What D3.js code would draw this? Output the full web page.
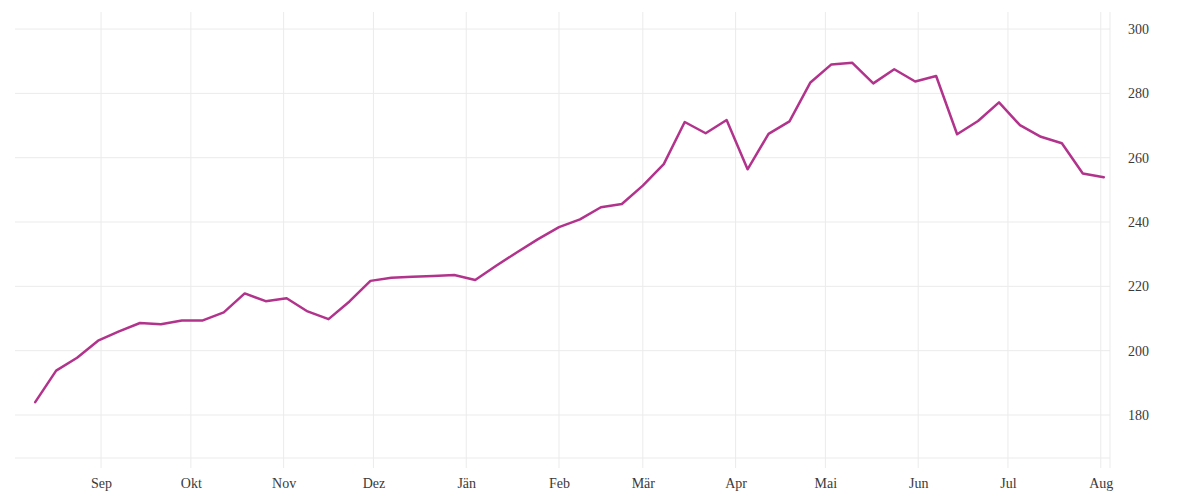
<!DOCTYPE html>
<html>
<head>
<meta charset="utf-8">
<script src="https://cdn.jsdelivr.net/npm/d3@7"></script>
<style>
  html, body { margin: 0; padding: 0; background: #fff; }
  svg { display: block; }
  text { font-family: "Liberation Serif", serif; font-size: 14px; fill: #3a3a3a; }
</style>
</head>
<body>
<svg id="chart" width="1200" height="500"></svg>
<script>
// ---- data ----
const startDate = "2022-08-10"; // weekly observations
const values = [
  184.0, 193.8, 197.8, 203.1, 206.0, 208.6, 208.2, 209.4, 209.4, 211.9,
  217.8, 215.4, 216.3, 212.2, 209.8, 215.3, 221.7, 222.7, 223.0, 223.2,
  223.5, 222.0, 226.4, 230.6, 234.7, 238.4, 240.8, 244.6, 245.6, 251.3,
  258.0, 271.1, 267.6, 271.7, 256.4, 267.4, 271.3, 283.4, 289.0, 289.5,
  283.1, 287.5, 283.7, 285.4, 267.3, 271.4, 277.2, 270.1, 266.5, 264.5,
  255.1, 253.9
];
const monthTicks = ["2022-09-01","2022-10-01","2022-11-01","2022-12-01","2023-01-01","2023-02-01",
                    "2023-03-01","2023-04-01","2023-05-01","2023-06-01","2023-07-01","2023-08-01"];
const monthLabels = ["Sep","Okt","Nov","Dez","Jän","Feb","Mär","Apr","Mai","Jun","Jul","Aug"];
const yTicks = [180, 200, 220, 240, 260, 280, 300];

// ---- build ----
const parse = d3.utcParse("%Y-%m-%d");
const t0 = parse(startDate);
const data = values.map((v, i) => ({ date: d3.utcDay.offset(t0, 7 * i), value: v }));
const ticks = monthTicks.map(parse);

const pL = 15, pR = 1110, pT = 12, pB = 458;

const x = d3.scaleUtc()
  .domain([d3.utcHour.offset(t0, -162), d3.utcHour.offset(data[data.length - 1].date, 50)])
  .range([pL, pR]);
const y = d3.scaleLinear().domain([166.63, 305.3]).range([pB, pT]);

const svg = d3.select("#chart");
const grid = "#ebebeb";

// horizontal grid
svg.append("g").selectAll("line").data(yTicks).join("line")
  .attr("x1", pL).attr("x2", pR)
  .attr("y1", d => y(d)).attr("y2", d => y(d))
  .attr("stroke", grid).attr("stroke-width", 1);

// bottom axis line
svg.append("line").attr("x1", pL).attr("x2", pR)
  .attr("y1", pB).attr("y2", pB).attr("stroke", grid);

// vertical grid (month ticks)
svg.append("g").selectAll("line").data(ticks).join("line")
  .attr("x1", d => x(d)).attr("x2", d => x(d))
  .attr("y1", pT).attr("y2", pB + 10)
  .attr("stroke", grid).attr("stroke-width", 1);

// right axis line
svg.append("line").attr("x1", pR).attr("x2", pR)
  .attr("y1", pT).attr("y2", pB + 10).attr("stroke", grid);

// x labels
const xAxis = d3.axisBottom(x).tickValues(ticks).tickSize(0).tickPadding(0)
  .tickFormat((d, i) => monthLabels[i]);
const gx = svg.append("g").attr("transform", `translate(0,${pB + 20})`).call(xAxis);
gx.select(".domain").remove();
gx.selectAll("text").attr("dy", "0.71em").style("font-family", '"Liberation Serif", serif')
  .style("font-size", "14px").attr("fill", "#3a3a3a");

// y labels
const yAxis = d3.axisRight(y).tickValues(yTicks).tickSize(0).tickPadding(0);
const gy = svg.append("g").attr("transform", `translate(${pR + 18},0)`).call(yAxis);
gy.select(".domain").remove();
gy.selectAll("text").style("font-family", '"Liberation Serif", serif')
  .style("font-size", "14px").attr("fill", "#3a3a3a");

// line
const line = d3.line().x(d => x(d.date)).y(d => y(d.value));
svg.append("path").datum(data)
  .attr("d", line)
  .attr("fill", "none")
  .attr("stroke", "#b2338c")
  .attr("stroke-width", 2.5)
  .attr("stroke-linejoin", "round")
  .attr("stroke-linecap", "round");
</script>
</body>
</html>
